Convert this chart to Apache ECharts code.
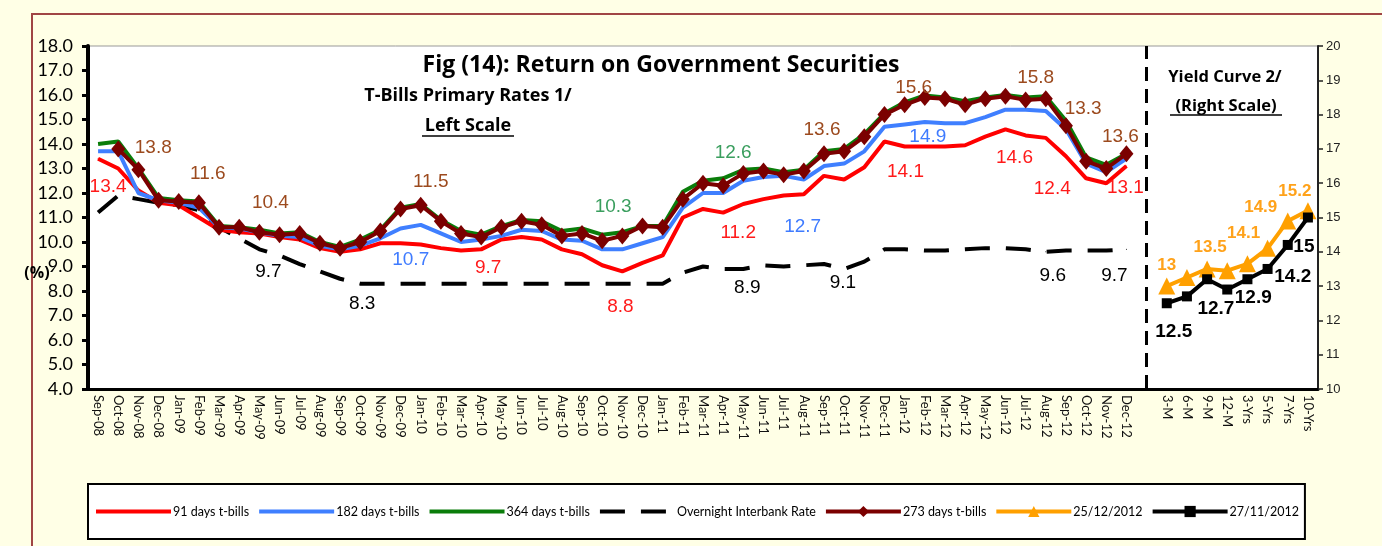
<!DOCTYPE html>
<html>
<head>
<meta charset="utf-8">
<script src="https://cdn.jsdelivr.net/npm/echarts@6/dist/echarts.min.js"></script>
<style>
html, body { margin: 0; padding: 0; background: #ffffe6; }
#main { width: 1382px; height: 546px; }
</style>
</head>
<body>
<div id="main"></div>
<script>
// categories: monthly t-bill dates, one blank slot, then yield curve tenors
var categories = [
    'Sep-08','Oct-08','Nov-08','Dec-08','Jan-09','Feb-09','Mar-09','Apr-09','May-09','Jun-09','Jul-09','Aug-09',
    'Sep-09','Oct-09','Nov-09','Dec-09','Jan-10','Feb-10','Mar-10','Apr-10','May-10','Jun-10','Jul-10','Aug-10',
    'Sep-10','Oct-10','Nov-10','Dec-10','Jan-11','Feb-11','Mar-11','Apr-11','May-11','Jun-11','Jul-11','Aug-11',
    'Sep-11','Oct-11','Nov-11','Dec-11','Jan-12','Feb-12','Mar-12','Apr-12','May-12','Jun-12','Jul-12','Aug-12',
    'Sep-12','Oct-12','Nov-12','Dec-12','',
    '3-M','6-M','9-M','12-M','3-Yrs','5-Yrs','7-Yrs','10-Yrs'
];
var yieldStart = 53;

var tbill91 = [13.4,13.0,12.1,11.6,11.5,11.0,10.5,10.4,10.35,10.2,10.1,9.75,
    9.6,9.7,9.95,9.95,9.9,9.75,9.65,9.7,10.1,10.2,10.1,9.7,
    9.5,9.05,8.8,9.15,9.45,11.0,11.35,11.2,11.55,11.75,11.9,11.95,
    12.7,12.55,13.05,14.1,13.9,13.9,13.9,13.95,14.3,14.6,14.35,14.25,
    13.5,12.6,12.4,13.1];
var tbill182 = [13.7,13.7,12.0,11.7,11.6,11.4,10.6,10.55,10.4,10.25,10.2,9.85,
    9.7,9.85,10.15,10.55,10.7,10.35,10.0,10.1,10.25,10.5,10.45,10.1,
    10.05,9.7,9.7,9.95,10.2,11.4,12.0,12.0,12.5,12.65,12.7,12.55,
    13.1,13.2,13.7,14.7,14.8,14.9,14.85,14.85,15.1,15.4,15.4,15.35,
    14.6,13.2,12.85,13.4];
var tbill364 = [14.0,14.1,13.0,11.8,11.7,11.65,10.65,10.6,10.5,10.35,10.4,10.0,
    9.8,10.1,10.5,11.4,11.55,10.9,10.45,10.3,10.65,10.9,10.85,10.45,
    10.55,10.3,10.4,10.65,10.65,12.05,12.5,12.6,12.95,13.0,12.85,12.95,
    13.7,13.8,14.4,15.25,15.7,15.98,15.9,15.75,15.9,16.0,15.9,15.95,
    14.95,13.45,13.15,13.6];
var interbank = [11.2,11.9,11.75,11.6,11.5,11.3,10.6,10.15,9.7,9.45,9.1,8.8,
    8.5,8.3,8.3,8.3,8.3,8.3,8.3,8.3,8.3,8.3,8.3,8.3,
    8.3,8.3,8.3,8.3,8.3,8.75,9.0,8.9,8.9,9.05,9.0,9.05,
    9.1,8.9,9.2,9.7,9.7,9.65,9.65,9.7,9.75,9.75,9.7,9.6,
    9.65,9.65,9.65,9.7];
var tbill273 = [null,13.8,12.95,11.7,11.65,11.6,10.6,10.6,10.4,10.3,10.35,9.95,
    9.75,10.0,10.45,11.35,11.5,10.85,10.35,10.2,10.6,10.85,10.7,10.25,
    10.35,10.05,10.25,10.65,10.6,11.75,12.4,12.3,12.8,12.9,12.75,12.9,
    13.6,13.7,14.3,15.2,15.6,15.9,15.85,15.6,15.85,15.95,15.8,15.85,
    14.75,13.3,13.0,13.6];
var curveDec = [13, 13.25, 13.5, 13.45, 13.65, 14.1, 14.9, 15.2];
var curveNov = [12.5, 12.7, 13.2, 12.9, 13.2, 13.5, 14.2, 15];

// where the value labels sit: index -> [dx, dy] from the point
var spots91 = {0: [10, 28], 19: [7, 18], 26: [-2, 35], 31: [15, 20], 39: [21, 30], 45: [9, 28], 50: [-54, 6], 51: [-1, 22]};
var spots182 = {16: [-10, 35], 34: [19, 51], 41: [3, 15]};
var spots364 = {25: [11, -28], 31: [10, -26]};
var spotsBank = {8: [9, 22], 13: [2, 20], 32: [4, 19], 36: [19, 19], 47: [7, 24], 51: [-12, 26]};
var spots273 = {1: [35, -1], 5: [9, -29], 8: [11, -29], 16: [10, -23], 36: [-2, -24], 40: [9, -17], 46: [10, -22], 49: [-3, -52], 51: [-6, -17]};
var spotsDec = {0: [0, -21], 2: [3, -22], 5: [-24, -15], 6: [-27, -14], 7: [-13, -19]};
var spotsNov = {0: [7, 29], 1: [29, 12], 3: [26, 8], 6: [5, 32], 7: [-4, 29]};

function buildData(values, start, spots, labelStyle, needSymbol) {
    var data = [];
    for (var i = 0; i < categories.length; i++) {
        var k = i - start;
        var v = (k >= 0 && k < values.length) ? values[k] : null;
        if (v != null && spots[k]) {
            var item = {
                value: v,
                label: Object.assign({
                    show: true, position: 'inside', offset: spots[k],
                    textBorderWidth: 0, fontFamily: 'Liberation Sans', fontSize: 19
                }, labelStyle)
            };
            if (needSymbol) { item.symbol = 'circle'; item.symbolSize = 1; }
            data.push(item);
        } else {
            data.push(v);
        }
    }
    return data;
}

var chart = echarts.init(document.getElementById('main'));

var plainIcon = { opacity: 0 };

var option = {
    animation: false,
    backgroundColor: '#ffffe6',
    grid: { left: 88, right: 64, top: 46, bottom: 157, show: true, backgroundColor: '#fff', borderColor: '#999', borderWidth: 1 },
    legend: {
        left: 88, top: 484,
        padding: [21, 6, 21, 6],
        borderColor: '#000', borderWidth: 2, backgroundColor: '#fff',
        itemWidth: 75, itemHeight: 14, itemGap: 8,
        lineStyle: { width: 4 },
        textStyle: { fontFamily: 'Lato', fontSize: 12.5, color: '#000', padding: [0, 0, 0, -3] },
        data: [
            { name: '91 days t-bills', itemStyle: plainIcon },
            { name: '182 days t-bills', itemStyle: plainIcon },
            { name: '364 days t-bills', itemStyle: plainIcon },
            { name: 'Overnight Interbank Rate', itemStyle: plainIcon },
            '273 days t-bills', '25/12/2012', '27/11/2012'
        ]
    },
    xAxis: {
        type: 'category',
        data: categories,
        axisLine: { lineStyle: { color: '#000', width: 3 } },
        axisTick: { interval: 0, length: 5, lineStyle: { color: '#000', width: 3 } },
        axisLabel: { interval: 0, rotate: -90, margin: 6, fontFamily: 'Lato', fontSize: 13, color: '#111' },
        splitLine: { show: false }
    },
    yAxis: [
        {
            type: 'value', min: 4, max: 18, interval: 1,
            axisLine: { show: true, lineStyle: { color: '#000', width: 4 } },
            axisTick: { show: true, length: 6, lineStyle: { color: '#000', width: 3 } },
            axisLabel: { margin: 15, fontFamily: 'Lato', fontSize: 18, color: '#000',
                formatter: function (v) { return v.toFixed(1); } },
            splitLine: { show: false }
        },
        {
            type: 'value', min: 10, max: 20, interval: 1, position: 'right',
            axisLine: { show: true, lineStyle: { color: '#222', width: 2 } },
            axisTick: { show: true, length: 5, lineStyle: { color: '#222', width: 1.5 } },
            axisLabel: { margin: 8, fontFamily: 'Liberation Sans', fontSize: 13, color: '#222' },
            splitLine: { show: false }
        }
    ],
    graphic: [
        { type: 'rect', shape: { x: 32, y: 14, width: 1400, height: 600 }, style: { fill: 'none', stroke: '#a04545', lineWidth: 2 }, z: 0 },
        { type: 'text', x: 661, y: 65, z: 10, style: { text: 'Fig (14): Return on Government Securities', font: 'bold 23px "Open Sans"', fill: '#000', textAlign: 'center', textVerticalAlign: 'middle' } },
        { type: 'text', x: 468, y: 96, z: 10, style: { text: 'T-Bills Primary Rates 1/', font: 'bold 18px "Open Sans"', fill: '#000', textAlign: 'center', textVerticalAlign: 'middle' } },
        { type: 'text', x: 468, y: 126, z: 10, style: { text: 'Left Scale', font: 'bold 18px "Open Sans"', fill: '#000', textAlign: 'center', textVerticalAlign: 'middle' } },
        { type: 'line', z: 10, shape: { x1: 422, y1: 136, x2: 514, y2: 136 }, style: { stroke: '#000', lineWidth: 1.5 } },
        { type: 'text', x: 1225, y: 77, z: 10, style: { text: 'Yield Curve 2/', font: 'bold 16.5px "Open Sans"', fill: '#000', textAlign: 'center', textVerticalAlign: 'middle' } },
        { type: 'text', x: 1226, y: 106, z: 10, style: { text: '(Right Scale)', font: 'bold 16.5px "Open Sans"', fill: '#000', textAlign: 'center', textVerticalAlign: 'middle' } },
        { type: 'line', z: 10, shape: { x1: 1170, y1: 115, x2: 1282, y2: 115 }, style: { stroke: '#000', lineWidth: 1.5 } },
        { type: 'text', x: 37, y: 273, z: 10, style: { text: '(%)', font: 'bold 16px "Open Sans"', fill: '#000', textAlign: 'center', textVerticalAlign: 'middle' } }
    ],
    series: [
        {
            name: '91 days t-bills', type: 'line', symbol: 'none', z: 2,
            lineStyle: { color: '#ff0000', width: 4 }, itemStyle: { color: '#ff0000' },
            data: buildData(tbill91, 0, spots91, { color: '#ff1a1a' }, true)
        },
        {
            name: '182 days t-bills', type: 'line', symbol: 'none', z: 3,
            lineStyle: { color: '#3f7fff', width: 4 }, itemStyle: { color: '#3f7fff' },
            data: buildData(tbill182, 0, spots182, { color: '#3f7bff' }, true)
        },
        {
            name: '364 days t-bills', type: 'line', symbol: 'none', z: 4,
            lineStyle: { color: '#0a7d0a', width: 4 }, itemStyle: { color: '#0a7d0a' },
            data: buildData(tbill364, 0, spots364, { color: '#3a9e5e' }, true)
        },
        {
            name: 'Overnight Interbank Rate', type: 'line', symbol: 'none', z: 1,
            lineStyle: { color: '#000', width: 4, type: [25, 16] }, itemStyle: { color: '#000' },
            data: buildData(interbank, 0, spotsBank, { color: '#000' }, true),
            markLine: {
                silent: true, symbol: 'none', label: { show: false },
                lineStyle: { color: '#000', width: 3, type: [14, 8] },
                data: [{ xAxis: 52 }]
            }
        },
        {
            name: '273 days t-bills', type: 'line', symbol: 'diamond', symbolSize: [14, 17], z: 5,
            lineStyle: { color: '#7b0000', width: 4 }, itemStyle: { color: '#7b0000' },
            data: buildData(tbill273, 0, spots273, { color: '#9c4a1e' }, false)
        },
        {
            name: '25/12/2012', type: 'line', yAxisIndex: 1, symbol: 'triangle', symbolSize: 17, z: 5,
            lineStyle: { color: '#ffa000', width: 4 }, itemStyle: { color: '#ffa000' },
            data: buildData(curveDec, yieldStart, spotsDec, { color: '#ffa21a', fontWeight: 'bold', fontSize: 17 }, false)
        },
        {
            name: '27/11/2012', type: 'line', yAxisIndex: 1, symbol: 'rect', symbolSize: 10, z: 6,
            lineStyle: { color: '#000', width: 4 }, itemStyle: { color: '#000' },
            data: buildData(curveNov, yieldStart, spotsNov, { color: '#000', fontWeight: 'bold', fontSize: 19 }, false)
        }
    ]
};

chart.setOption(option);
</script>
</body>
</html>
